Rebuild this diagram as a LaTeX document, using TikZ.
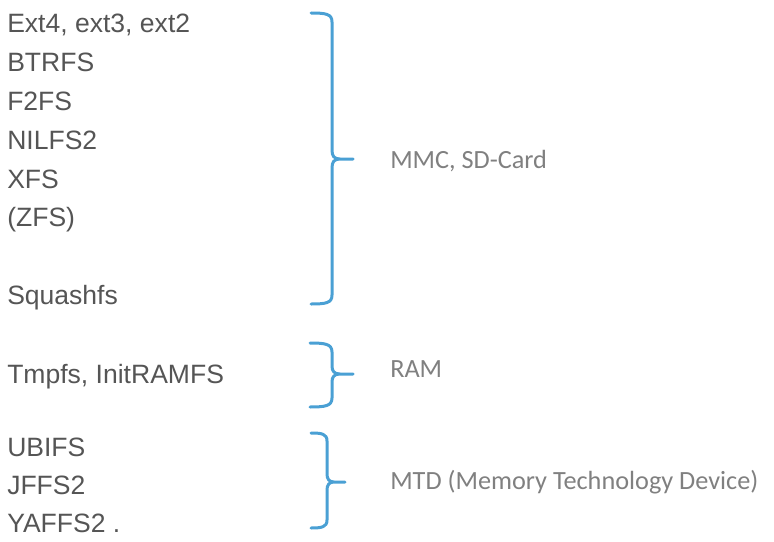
\documentclass[tikz,border=0pt]{standalone}
\usepackage{fontspec}
\usepackage{tikz}
\usetikzlibrary{positioning}
\newfontfamily\listfont{Liberation Sans}
\newfontfamily\labelfont{Carlito}
\definecolor{fstext}{RGB}{85,85,85}
\definecolor{devtext}{RGB}{128,128,128}
\definecolor{braceblue}{RGB}{74,160,212}

\tikzset{
  fsname/.style={anchor=base west, inner sep=0pt, text=fstext,
    font=\listfont\fontsize{19.9}{23}\selectfont},
  devname/.style={anchor=base west, inner sep=0pt, text=devtext,
    font=\labelfont\fontsize{19.7}{23}\selectfont},
  fsbrace/.style={draw=braceblue, line width=2.25pt, line join=round, line cap=round}
}

\begin{document}
\begin{tikzpicture}[x=0.75pt, y=-0.75pt]
    \useasboundingbox (0,0) rectangle (774,542);

    % file systems
    \node[fsname] (ext)    at (7,33)  {Ext4, ext3, ext2};
    \node[fsname] (btrfs)  at (7,72)  {BTRFS};
    \node[fsname] (f2fs)   at (7,110) {F2FS};
    \node[fsname] (nilfs)  at (7,149) {NILFS2};
    \node[fsname] (xfs)    at (7,188) {XFS};
    \node[fsname] (zfs)    at (7,226) {(ZFS)};
    \node[fsname] (squash) at (7,304) {Squashfs};
    \node[fsname] (tmpfs)  at (7,383) {Tmpfs, InitRAMFS};
    \node[fsname] (ubifs)  at (7,456) {UBIFS};
    \node[fsname] (jffs)   at (7,494) {JFFS2};
    \node[fsname] (yaffs)  at (7,532) {YAFFS2 .};

    % braces
    \draw[fsbrace] (311,13) .. controls (326,13) and (332,14) .. (332,22)
        -- (332,150) .. controls (332,156) and (334,159) .. (340,159) -- (353,159)
        (340,159) .. controls (334,159) and (332,162) .. (332,168)
        -- (332,295) .. controls (332,303) and (326,304) .. (311,304);

    \draw[fsbrace] (310,343) .. controls (325,343) and (332,344) .. (332,352)
        -- (332,366) .. controls (332,371) and (334,374) .. (340,374) -- (353,374)
        (340,374) .. controls (334,374) and (332,377) .. (332,382)
        -- (332,398) .. controls (332,406) and (325,407) .. (310,407);

    \draw[fsbrace] (311,433) .. controls (322,433) and (327,434) .. (327,441)
        -- (327,474) .. controls (327,479) and (329,482) .. (334,482) -- (345,482)
        (334,482) .. controls (329,482) and (327,485) .. (327,490)
        -- (327,520) .. controls (327,527) and (322,528) .. (311,528);

    % devices
    \node[devname] (mmc) at (390,168) {MMC, SD-Card};
    \node[devname] (ram) at (390,377) {RAM};
    \node[devname] (mtd) at (390,489) {MTD (Memory Technology Device)};
\end{tikzpicture}
\end{document}
